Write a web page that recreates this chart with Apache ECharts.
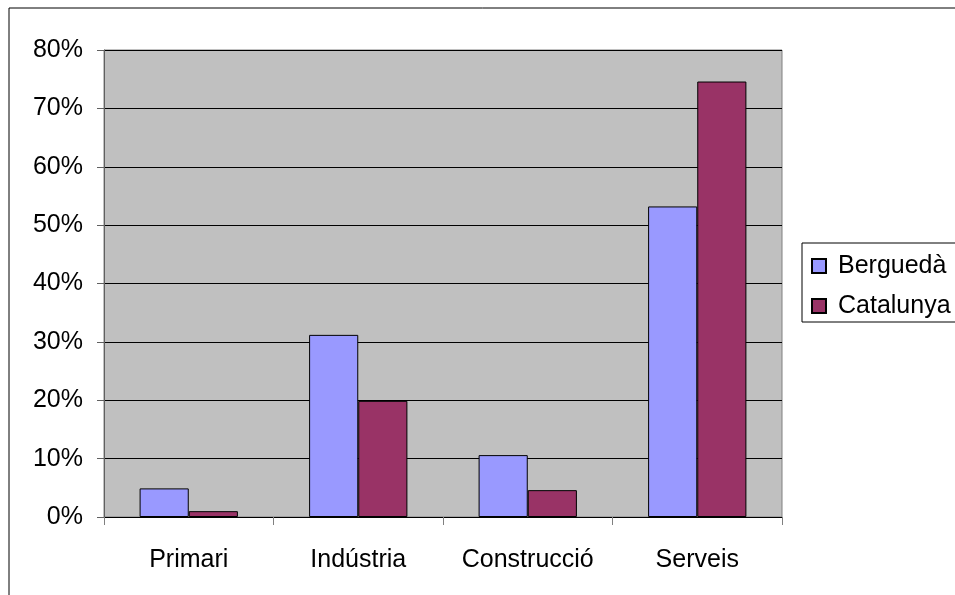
<!DOCTYPE html>
<html>
<head>
<meta charset="utf-8">
<script src="https://cdn.jsdelivr.net/npm/echarts@6/dist/echarts.min.js"></script>
<style>
html,body{margin:0;padding:0;background:#fff;}
#c{width:955px;height:595px;}
</style>
</head>
<body>
<div id="c"></div>
<script>
const categories = ['Primari', 'Indústria', 'Construcció', 'Serveis'];
const bergueda = [4.9, 31.2, 10.6, 53.2];
const catalunya = [1.0, 19.9, 4.6, 74.6];
const seriesNames = ['Berguedà', 'Catalunya'];

const FONT = '"Liberation Sans", Arial, sans-serif';
const chart = echarts.init(document.getElementById('c'), null, {renderer: 'canvas'});
chart.setOption({
  animation: false,
  backgroundColor: '#ffffff',
  graphic: [{
    type: 'rect',
    shape: {x: 9, y: 8, width: 1000, height: 1000},
    style: {fill: 'none', stroke: '#000', lineWidth: 1},
    silent: true,
    z: 100
  }],
  grid: {
    left: 104, right: 173, top: 50, bottom: 78,
    show: true, backgroundColor: '#c0c0c0', borderColor: '#808080', borderWidth: 1
  },
  legend: {
    orient: 'vertical',
    left: 802, top: 243,
    padding: [9, 30, 2, 9],
    borderColor: '#000', borderWidth: 1,
    backgroundColor: '#fff',
    itemWidth: 14, itemHeight: 14,
    itemGap: 12,
    icon: 'rect',
    textStyle: {fontFamily: FONT, fontSize: 25, color: '#000', lineHeight: 28, padding: [0, 0, 0, 7]},
    data: seriesNames
  },
  xAxis: {
    type: 'category',
    data: categories,
    axisLine: {lineStyle: {color: '#000', width: 1}},
    axisTick: {show: true, length: 8, alignWithLabel: false, lineStyle: {color: '#808080'}},
    axisLabel: {fontFamily: FONT, fontSize: 25, color: '#000', margin: 31, interval: 0},
    splitLine: {show: false}
  },
  yAxis: {
    type: 'value',
    min: 0, max: 80, interval: 10,
    axisLine: {show: true, lineStyle: {color: '#606060'}},
    axisTick: {show: true, length: 7, lineStyle: {color: '#606060'}},
    axisLabel: {fontFamily: FONT, fontSize: 25, color: '#000', margin: 21, formatter: '{value}%'},
    splitLine: {show: true, lineStyle: {color: '#000', width: 1}}
  },
  series: [
    {
      name: seriesNames[0], type: 'bar', data: bergueda,
      barGap: '0%', barCategoryGap: '42%',
      itemStyle: {color: '#9999ff', borderColor: '#000', borderWidth: 1}
    },
    {
      name: seriesNames[1], type: 'bar', data: catalunya,
      barGap: '0%', barCategoryGap: '42%',
      itemStyle: {color: '#993366', borderColor: '#000', borderWidth: 1}
    }
  ]
});
</script>
</body>
</html>
